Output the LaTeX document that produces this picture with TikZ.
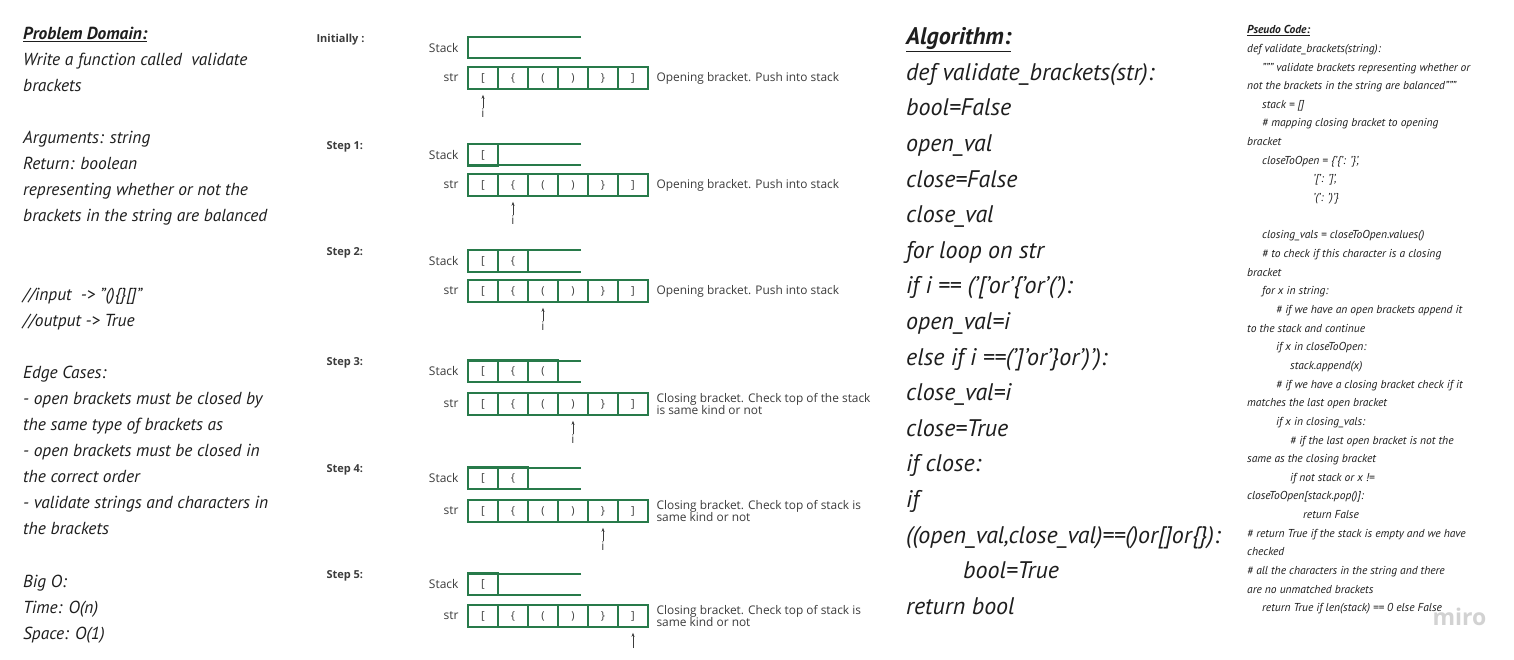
\documentclass[tikz,border=0pt]{standalone}
\usepackage{fontspec}
\setmainfont{PT Sans}
\newfontfamily\diagfont{Open Sans}
\usepackage{xcolor}
\usepackage{tikz}
\usetikzlibrary{arrows.meta, positioning}

\definecolor{boxgreen}{RGB}{40,122,74}
\definecolor{labelgray}{RGB}{60,60,60}
\definecolor{inkblack}{RGB}{30,30,30}

\begin{document}
\begin{tikzpicture}[
    x=1pt, y=-1pt,
    hand/.style={font=\itshape\fontsize{17.4}{26.1}\selectfont, text=inkblack, align=left, anchor=north west, inner sep=0pt},
    cell/.style={draw=boxgreen, line width=1.6pt, minimum width=30pt, minimum height=22pt, inner sep=0pt, font=\diagfont\fontsize{11}{13}\selectfont, text=labelgray},
    stackline/.style={draw=boxgreen, line width=2pt},
    steplabel/.style={font=\diagfont\bfseries\fontsize{11}{13}\selectfont, text=labelgray, anchor=west},
    rowlabel/.style={font=\diagfont\fontsize{12}{14}\selectfont, text=labelgray, anchor=east},
    note/.style={font=\diagfont\fontsize{11.9}{12}\selectfont, text=labelgray, anchor=west, align=left},
    ptr/.style={-{Stealth[length=4pt, width=3pt]}, draw=labelgray, line width=0.6pt, shorten >=5pt},
    pointer/.style={font=\diagfont\fontsize{12}{14}\selectfont, text=labelgray, inner sep=0pt}
]
\useasboundingbox[fill=white] (0,0) rectangle (1514,660);

% problem domain
\node[hand] (domain) at (23,26.5) {\textbf{\underline{Problem Domain:}}\\
Write a function called\ \ validate\\
brackets\\[26.1pt]
Arguments: string\\
Return: boolean\\
representing whether or not the\\
brackets in the string are balanced\\[52.2pt]
//input\ \ -> "()\{\}[]"\\
//output -> True\\[26.1pt]
Edge Cases:\\
- open brackets must be closed by\\
the same type of brackets as\\
- open brackets must be closed in\\
the correct order\\
- validate strings and characters in\\
the brackets\\[26.1pt]
Big O:\\
Time: O(n)\\
Space: O(1)};

% steps
\foreach \k/\lx/\sy/\ty/\lbl/\txt in {
    0/313/48/78/{Initially :}/{Opening bracket. Push into stack},
    1/323/155/185/{Step 1:}/{Opening bracket. Push into stack},
    2/323/261/291/{Step 2:}/{Opening bracket. Push into stack},
    3/323/371/404/{Step 3:}/{Closing bracket. Check top of the stack\\is same kind or not},
    4/323/478/511/{Step 4:}/{Closing bracket. Check top of stack is\\same kind or not},
    5/323/584/616/{Step 5:}/{Closing bracket. Check top of stack is\\same kind or not}} {
  \node[steplabel] (step\k) at (\lx,\sy-8) {\lbl};
  \node[rowlabel] (stk\k) at (462,\sy) {Stack};
  \node[rowlabel] (str\k) at (462,\ty) {str};
  \draw[stackline] (581,\sy-10.5) -- (468,\sy-10.5) -- (468,\sy+10.5) -- (581,\sy+10.5);
  \foreach \c [count=\j] in {{[},{\{},{(},{)},{\}},{]}}
    \node[cell] (s\k-\j) at (453+30*\j,\ty) {\c};
  \node[note] (n\k) at (653,\ty) {\txt};
}

% stack contents
\node[cell] (k1-1) at (483,155) {[};
\node[cell] (k2-1) at (483,261) {[};
\node[cell] (k2-2) at (513,261) {\{};
\node[cell] (k3-1) at (483,371) {[};
\node[cell] (k3-2) at (513,371) {\{};
\node[cell] (k3-3) at (543,371) {(};
\node[cell] (k4-1) at (483,478) {[};
\node[cell] (k4-2) at (513,478) {\{};
\node[cell] (k5-1) at (483,584) {[};

% pointers
\foreach \k/\p/\ty in {0/1/78, 1/2/185, 2/3/291, 3/4/404, 4/5/511} {
  \node[pointer] (i\k) at (453+30*\p,\ty+35) {i};
  \draw[ptr] (i\k) -- (s\k-\p);
}
\coordinate (i5) at (633,648);
\draw[ptr] (i5) -- (s5-6);

% algorithm
\node[hand, font=\itshape\fontsize{24}{35.6}\selectfont] (algo) at (906,27.5) {\textbf{\underline{Algorithm:}}\\
def validate\_brackets(str):\\
bool=False\\
open\_val\\
close=False\\
close\_val\\
for loop on str\\
if i == ('['or'\{'or'('):\\
open\_val=i\\
else if i ==(']'or'\}or')'):\\
close\_val=i\\
close=True\\
if close:\\
if\\
((open\_val,close\_val)==()or[]or\{\}):\\
\hspace*{57pt}bool=True\\
return bool};

% pseudo code
\node[hand, font=\itshape\fontsize{11.5}{18.65}\selectfont] (pseudo) at (1247,25.3) {\textbf{\underline{Pseudo Code:}}\\
def validate\_brackets(string):\\
\hspace*{15pt}""" validate brackets representing whether or\\
not the brackets in the string are balanced"""\\
\hspace*{15pt}stack = []\\
\hspace*{15pt}\# mapping closing bracket to opening\\
bracket\\
\hspace*{15pt}closeToOpen = \{'\{': '\}',\\
\hspace*{66pt}'[': ']',\\
\hspace*{66pt}'(': ')'\}\\[18.65pt]
\hspace*{15pt}closing\_vals = closeToOpen.values()\\
\hspace*{15pt}\# to check if this character is a closing\\
bracket\\
\hspace*{15pt}for x in string:\\
\hspace*{29pt}\# if we have an open brackets append it\\
to the stack and continue\\
\hspace*{29pt}if x in closeToOpen:\\
\hspace*{43pt}stack.append(x)\\
\hspace*{29pt}\# if we have a closing bracket check if it\\
matches the last open bracket\\
\hspace*{29pt}if x in closing\_vals:\\
\hspace*{43pt}\# if the last open bracket is not the\\
same as the closing bracket\\
\hspace*{43pt}if not stack or x !=\\
closeToOpen[stack.pop()]:\\
\hspace*{56pt}return False\\
\# return True if the stack is empty and we have\\
checked\\
\# all the characters in the string and there\\
are no unmatched brackets\\
\hspace*{15pt}return True if len(stack) == 0 else False};

\node[font=\diagfont\bfseries\fontsize{23}{23}\selectfont, text=gray!35, anchor=west] (miro) at (1429,617) {miro};

\end{tikzpicture}
\end{document}
